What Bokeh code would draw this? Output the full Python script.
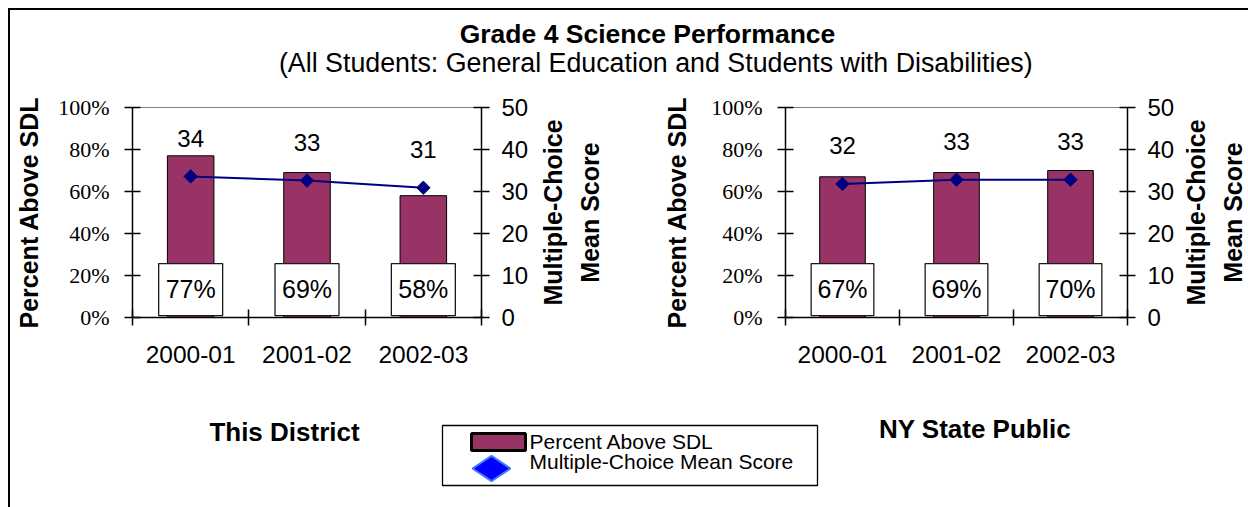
import math
import numpy as np
from bokeh.plotting import figure
from bokeh.models import Range1d, LinearAxis, FixedTicker, PrintfTickFormatter
from bokeh.layouts import column, row
from bokeh.core.properties import value
from bokeh.embed import file_html
from bokeh.resources import INLINE

# ---------------- data ----------------
years = ["2000-01", "2001-02", "2002-03"]
district_pct = [77, 69, 58]
district_score = [33.6, 32.6, 30.9]
state_pct = [67, 69, 70]
state_score = [31.8, 32.8, 32.8]
pct_ticks = [0, 20, 40, 60, 80, 100]
score_ticks = [0, 10, 20, 30, 40, 50]

title_text = "Grade 4 Science Performance"
subtitle_text = "(All Students:  General Education and Students with Disabilities)"
panel_names = ["This District", "NY State Public"]
legend_labels = ["Percent Above SDL", "Multiple-Choice Mean Score"]
left_label = "Percent Above SDL"
right_label = "Multiple-Choice\nMean Score"

# ---------------- style ----------------
SANS = "Liberation Sans"
SERIF = "Liberation Serif"
BAR = "#993366"
NAVY = "#000080"

TOTAL_W = 1238
TITLE_H = 78
CHART_H = 300
BOTTOM_H = 119
MB_TOP = 19
MB_BOTTOM = CHART_H - MB_TOP - 210


def style_axis(ax):
    ax.axis_line_color = "black"
    ax.axis_line_width = 1.5
    ax.major_tick_line_color = "black"
    ax.major_tick_line_width = 1.5
    ax.major_tick_in = 8
    ax.major_tick_out = 8
    ax.minor_tick_line_color = None
    ax.major_label_text_color = "black"
    ax.axis_label_text_color = "black"
    ax.axis_label_text_font = SANS
    ax.axis_label_text_font_style = "bold"
    ax.axis_label_text_font_size = "25px"


def make_chart(pct, score, width, mb_left, mb_right, label_standoff):
    xs = np.arange(1, len(years) + 1)
    p = figure(width=width, height=CHART_H,
               x_range=Range1d(0.5, len(years) + 0.5), y_range=Range1d(0, 100),
               output_backend="svg", toolbar_location=None,
               min_border_left=mb_left, min_border_right=mb_right,
               min_border_top=MB_TOP, min_border_bottom=MB_BOTTOM)
    p.extra_y_ranges = {"score": Range1d(0, 50)}
    p.xgrid.visible = False
    p.ygrid.visible = False
    p.outline_line_color = "#808080"
    p.outline_line_width = 1
    p.background_fill_color = "white"
    p.border_fill_color = "white"

    # x axis: labels at category centres, ticks at category boundaries
    xa = p.xaxis[0]
    style_axis(xa)
    xa.ticker = FixedTicker(ticks=[int(v) for v in xs],
                            minor_ticks=[i + 0.5 for i in range(len(years) + 1)])
    xa.major_label_overrides = {int(v): y for v, y in zip(xs, years)}
    xa.major_tick_line_color = None
    xa.minor_tick_line_color = "black"
    xa.minor_tick_line_width = 1.5
    xa.minor_tick_in = 8
    xa.minor_tick_out = 8
    xa.major_label_standoff = 20
    xa.major_label_text_font = SANS
    xa.major_label_text_font_size = "24.5px"

    # left axis
    ya = p.yaxis[0]
    style_axis(ya)
    ya.ticker = FixedTicker(ticks=pct_ticks)
    ya.formatter = PrintfTickFormatter(format="%d%%")
    ya.major_label_text_font = SERIF
    ya.major_label_text_font_size = "22px"
    ya.major_label_standoff = 15
    ya.axis_label = left_label
    ya.axis_label_standoff = label_standoff

    # right axis
    ra = LinearAxis(y_range_name="score", ticker=FixedTicker(ticks=score_ticks))
    style_axis(ra)
    ra.major_label_text_font = SANS
    ra.major_label_text_font_size = "24px"
    ra.major_label_standoff = 12
    p.add_layout(ra, "right")

    # bars
    p.vbar(x=xs, top=pct, bottom=0, width=0.40,
           fill_color=BAR, line_color="black", line_width=1)
    # label boxes at the base of the bars
    p.rect(x=xs, y=13.3, width=0.55, height=24.8,
           fill_color="white", line_color="#1a1a1a", line_width=1.3)
    p.text(x=xs, y=13.6, text=[f"{v}%" for v in pct],
           text_align="center", text_baseline="middle",
           text_font=value(SANS), text_font_size="25px", text_color="black")
    # mean score line
    p.line(x=xs, y=score, y_range_name="score", line_color=NAVY, line_width=2)
    p.scatter(x=xs, y=score, y_range_name="score", marker="square",
              angle=math.pi / 4, size=9.5, fill_color=NAVY, line_color=NAVY)
    p.text(x=xs, y=score, y_range_name="score", y_offset=-38,
           text=[f"{v:.0f}" for v in score],
           text_align="center", text_baseline="middle",
           text_font=value(SANS), text_font_size="24px", text_color="black")
    return p


def make_right_title(width, mb_left):
    # narrow strip whose (left) axis title is the two-line right-axis title,
    # so that it reads bottom to top like the reference
    q = figure(width=width, height=CHART_H, x_range=Range1d(0, 1),
               y_range=Range1d(0, 50), x_axis_type=None,
               output_backend="svg", toolbar_location=None,
               min_border_left=mb_left, min_border_right=0,
               min_border_top=MB_TOP, min_border_bottom=MB_BOTTOM,
               outline_line_color=None)
    q.ygrid.visible = False
    ax = q.yaxis[0]
    style_axis(ax)
    ax.ticker = FixedTicker(ticks=[])
    ax.axis_line_color = None
    ax.major_tick_line_color = None
    ax.major_tick_in = 0
    ax.major_tick_out = 0
    ax.major_label_standoff = 0
    ax.axis_label = right_label
    ax.axis_label_standoff = 0
    ax.axis_label_text_line_height = 1.3
    return q


# ---------------- title strip ----------------
tp = figure(width=TOTAL_W, height=TITLE_H, x_range=Range1d(0, TOTAL_W),
            y_range=Range1d(TITLE_H, 0), x_axis_type=None, y_axis_type=None,
            output_backend="svg", toolbar_location=None, min_border=0,
            outline_line_color=None)
tp.text(x=[637], y=[23.3], text=[title_text], text_align="center",
        text_baseline="alphabetic", text_font=value(SANS),
        text_font_style="bold", text_font_size="26.5px", text_color="black")
tp.text(x=[649], y=[52.7], text=[subtitle_text], text_align="center",
        text_baseline="alphabetic", text_font=value(SANS),
        text_font_size="26.8px", text_color="black")

# ---------------- charts ----------------
left = make_chart(district_pct, district_score, 525, 122, 54, 12)
left_title = make_right_title(95, 68)
right = make_chart(state_pct, state_score, 548, 155, 51, 17)
right_title = make_right_title(70, 68)

# ---------------- bottom strip: panel names + legend ----------------
bp = figure(width=TOTAL_W, height=BOTTOM_H, x_range=Range1d(0, TOTAL_W),
            y_range=Range1d(BOTTOM_H, 0), x_axis_type=None, y_axis_type=None,
            output_backend="svg", toolbar_location=None, min_border=0,
            outline_line_color=None)
bp.text(x=[274, 964.5], y=[43, 40.5], text=panel_names, text_align="center",
        text_baseline="alphabetic", text_font=value(SANS),
        text_font_style="bold", text_font_size="26px", text_color="black")
bp.rect(x=[619.5], y=[67], width=375, height=60, fill_color="white",
        line_color="black", line_width=1.3)
bp.rect(x=[488], y=[53.5], width=54, height=17, fill_color=BAR,
        line_color="black", line_width=3)
bp.scatter(x=[481], y=[80], marker="diamond", angle=math.pi / 2, size=38,
           fill_color="#0000FF", line_color="#4477FF", line_width=2)
bp.text(x=[519, 519], y=[53, 73], text=legend_labels, text_align="left",
        text_baseline="middle", text_font=value(SANS),
        text_font_size="21px", text_color="black")

layout = column(tp, row(left, left_title, right, right_title), bp,
                margin=(8, 0, 0, 8),
                styles={"border-top": "2px solid black",
                        "border-left": "2px solid black"})

open("out.html", "w").write(file_html(layout, INLINE))
